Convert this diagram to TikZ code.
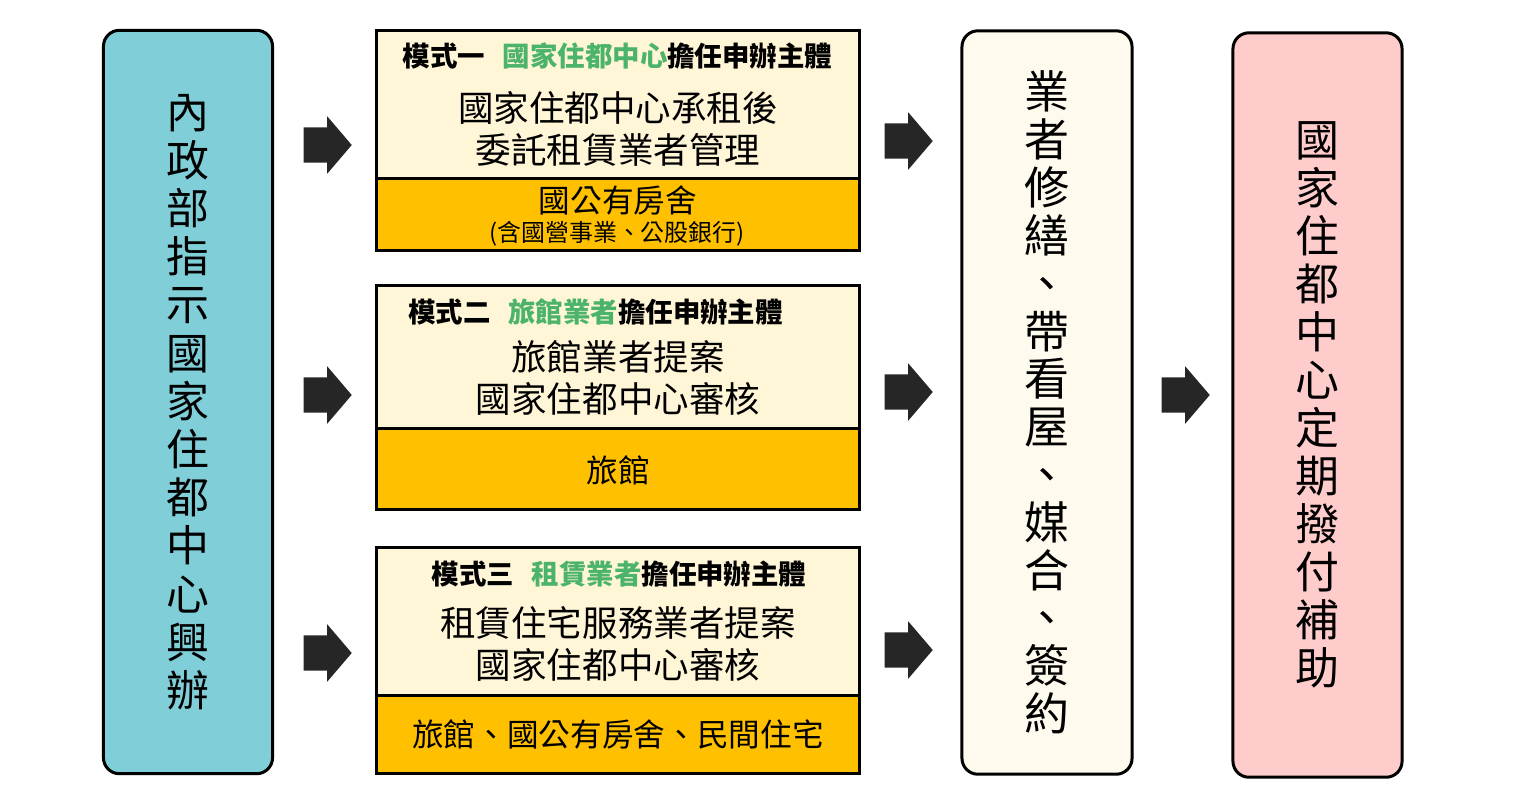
\documentclass[tikz,border=0pt]{standalone}
\usepackage{fontspec}
\setmainfont{Noto Sans CJK TC}
\usepackage{tikz}
\usetikzlibrary{shapes.arrows, positioning}

\definecolor{govteal}{HTML}{80CED8}
\definecolor{modecream}{HTML}{FFF5D7}
\definecolor{modegold}{HTML}{FFC000}
\definecolor{actcream}{HTML}{FFFAEE}
\definecolor{paypink}{HTML}{FFCCCC}
\definecolor{leadgreen}{HTML}{4CB46A}
\definecolor{arrowgray}{HTML}{262626}

\begin{document}
\begin{tikzpicture}[x=0.01cm, y=-0.01cm,
  every node/.style={inner sep=0pt, text=black},
  vbox/.style={draw=black, line width=0.03cm, rounded corners=0.16cm,
    minimum width=1.69cm, minimum height=7.43cm, align=center},
  modebox/.style={draw=black, line width=0.03cm, minimum width=4.82cm},
  titletext/.style={font=\fontsize{7.8pt}{9pt}\selectfont\bfseries},
  bodytext/.style={align=center, font=\fontsize{10.1pt}{11.95pt}\selectfont},
  lowtext/.style={font=\fontsize{9pt}{10pt}\selectfont},
  blockarrow/.style={single arrow, fill=arrowgray, draw=none, anchor=tail,
    inner xsep=0pt, inner ysep=0.17cm, minimum height=0.48cm,
    single arrow head extend=0.11cm, single arrow tip angle=99}]

\useasboundingbox (0,0) rectangle (1522,805);

% Ministry box
\node[vbox, fill=govteal, font=\fontsize{12.2pt}{13.7pt}\selectfont] (gov) at (188,402)
  {內\\政\\部\\指\\示\\國\\家\\住\\都\\中\\心\\興\\辦};

% Mode 1
\node[modebox, fill=modecream, minimum height=1.48cm] (m1top) at (618,105) {};
\node[modebox, fill=modegold, minimum height=0.71cm] (m1low) at (618,214.5) {};
\node[titletext] (m1title) at (617.5,56)
  {模式一\hspace{0.65em}\textcolor{leadgreen}{國家住都中心}擔任申辦主體};
\node[bodytext] (m1body) at (618,128.5) {國家住都中心承租後\\委託租賃業者管理};
\node[lowtext] (m1house) at (618,200.5) {國公有房舍};
\node[font=\fontsize{6.8pt}{8pt}\selectfont] (m1note) at (617,234) {(含國營事業、公股銀行)};

% Mode 2
\node[modebox, fill=modecream, minimum height=1.43cm] (m2top) at (618,357.5) {};
\node[modebox, fill=modegold, minimum height=0.80cm] (m2low) at (618,469) {};
\node[titletext] (m2title) at (595.5,311.5)
  {模式二\hspace{0.65em}\textcolor{leadgreen}{旅館業者}擔任申辦主體};
\node[bodytext] (m2body) at (618,378) {旅館業者提案\\國家住都中心審核};
\node[lowtext] (m2house) at (618,470.5) {旅館};

% Mode 3
\node[modebox, fill=modecream, minimum height=1.47cm] (m3top) at (618,621.5) {};
\node[modebox, fill=modegold, minimum height=0.78cm] (m3low) at (618,734) {};
\node[titletext] (m3title) at (619,574.5)
  {模式三\hspace{0.65em}\textcolor{leadgreen}{租賃業者}擔任申辦主體};
\node[bodytext] (m3body) at (618,643.5) {租賃住宅服務業者提案\\國家住都中心審核};
\node[lowtext] (m3house) at (618,734.5) {旅館、國公有房舍、民間住宅};

% Operator box
\node[vbox, fill=actcream, minimum width=1.70cm, font=\fontsize{12.8pt}{13.6pt}\selectfont] (act) at (1047,402.5)
  {業\\者\\修\\繕\\、\\帶\\看\\屋\\、\\媒\\合\\、\\簽\\約};

% Subsidy box
\node[vbox, fill=paypink, minimum height=7.44cm, font=\fontsize{12.5pt}{13.65pt}\selectfont] (pay) at (1317.5,405)
  {國\\家\\住\\都\\中\\心\\定\\期\\撥\\付\\補\\助};

% Block arrows
\node[blockarrow] (a1) at (303,145) {};
\node[blockarrow] (a2) at (303,395) {};
\node[blockarrow] (a3) at (303,653) {};
\node[blockarrow] (b1) at (884,141) {};
\node[blockarrow] (b2) at (884,392) {};
\node[blockarrow] (b3) at (884,650) {};
\node[blockarrow] (c1) at (1161,395) {};

\end{tikzpicture}
\end{document}
